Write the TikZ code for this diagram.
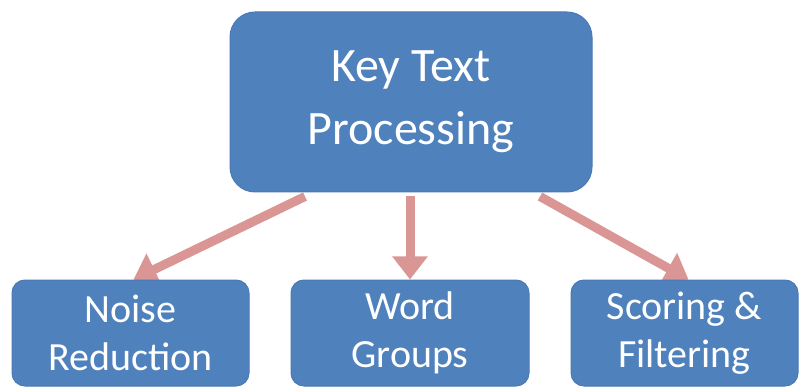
\documentclass[tikz,border=0pt]{standalone}
\usepackage{fontspec}
\setmainfont{Carlito}
\usepackage{xcolor}
\usetikzlibrary{arrows.meta,backgrounds}
\definecolor{boxblue}{HTML}{4F81BD}
\definecolor{boxrim}{HTML}{4A7AB4}
\definecolor{linkpink}{HTML}{D99694}
\newcommand{\bigtxt}{\fontsize{48}{59}\selectfont}
\newcommand{\smalltxt}{\fontsize{40}{48}\selectfont}

\begin{document}
\begin{tikzpicture}[x=1pt,y=-1pt,
  box/.style={draw=boxrim,line width=1pt,fill=boxblue,rounded corners=#1,text=white,align=center,inner sep=0pt},
  link/.style={draw=linkpink,line width=9pt,-{Triangle[length=23pt,width=34pt]}}]
\useasboundingbox (0,0) rectangle (800,387);
% ---- GLOWNY BLOK ----
\node[box=25pt,minimum width=362pt,minimum height=180pt,font=\bigtxt] (key) at (411,102) {Key Text\\[4pt]Processing};
% ---- BLOKI DOLNE ----
\node[box=13pt,minimum width=237pt,minimum height=106pt,font=\smalltxt] (noise) at (130.5,333) {Noise\\Reduction};
\node[box=13pt,minimum width=238pt,minimum height=106pt,font=\smalltxt] (words) at (410,333) {Word\\Groups};
\node[box=13pt,minimum width=227pt,minimum height=106pt,font=\smalltxt] (score) at (684.5,333) {Scoring \&\\Filtering};
% ---- STRZALKI ----
\begin{scope}[on background layer]
\draw[link] ([xshift=-106pt,yshift=-4pt]key.south) -- ([xshift=3pt]noise.north);
\draw[link] ([yshift=-4pt]key.south -| words.north) -- (words.north);
\draw[link] ([xshift=129pt,yshift=-4pt]key.south) -- ([xshift=4pt]score.north);
\end{scope}
\end{tikzpicture}
\end{document}
